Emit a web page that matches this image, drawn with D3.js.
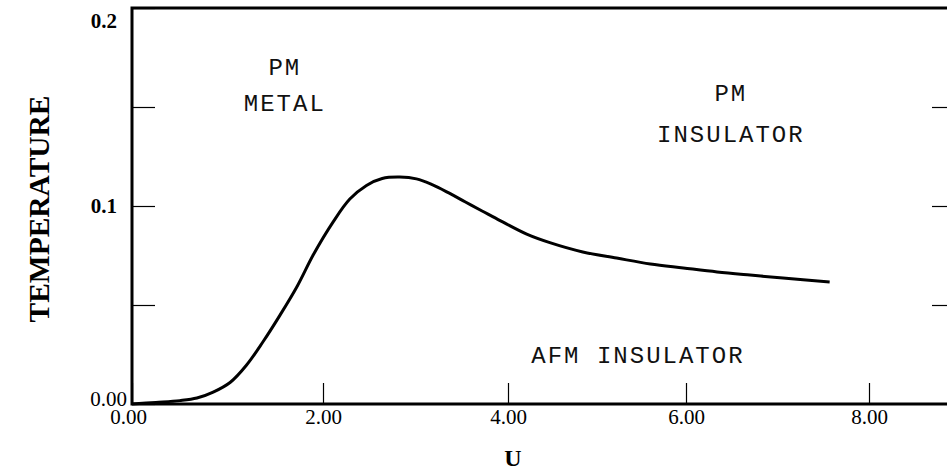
<!DOCTYPE html>
<html>
<head>
  <meta charset="utf-8">
  <script src="https://d3js.org/d3.v7.min.js" charset="utf-8"></script>
  <style>
    body { margin: 0px; background: #fff; }
    .tick text { font-family: "Liberation Serif", "Times New Roman", serif; fill: #000; }
    .region { font-family: "Courier New", "Liberation Mono", monospace; font-size: 24px; letter-spacing: 2px; text-anchor: middle; fill: #111; }
    .title { font-family: "Liberation Serif", "Times New Roman", serif; font-weight: bold; fill: #000; }
  </style>
</head>
<body>
<svg id="chart" width="947" height="471"></svg>

<script type="text/javascript">

// phase boundary
var uVals = [0, 0.25, 0.50, 0.68, 0.85, 1.03, 1.20, 1.37, 1.55, 1.73, 1.90, 2.11, 2.29, 2.47, 2.64, 2.83, 3.01, 3.18, 3.36, 3.54, 3.72, 3.92, 4.21, 4.47, 4.84, 5.22, 5.60, 5.97, 6.34, 6.70, 7.06, 7.57];
var tVals = [0, 0.0008, 0.0017, 0.003, 0.006, 0.011, 0.0197, 0.0313, 0.0449, 0.0595, 0.0755, 0.0920, 0.1035, 0.1104, 0.1139, 0.1146, 0.1137, 0.1108, 0.1066, 0.1020, 0.0975, 0.0925, 0.0858, 0.0815, 0.0768, 0.0737, 0.0707, 0.0687, 0.0667, 0.0651, 0.0636, 0.0616];

var xTicks = [0, 2, 4, 6, 8];
var xTickLabels = ["0.00", "2.00", "4.00", "6.00", "8.00"];
var yTicks = [0, 0.05, 0.1, 0.15, 0.2];
var yTickLabels = ["0.00", "", "0.1", "", "0.2"];

var regions = [
  { lines: ["PM", "METAL"], u: 1.60, t: [0.170, 0.152] },
  { lines: ["PM", "INSULATOR"], u: 6.49, t: [0.157, 0.136] },
  { lines: ["AFM INSULATOR"], u: 5.46, t: [0.0247] }
];

var svg = d3.select("#chart"),
    plotLeft = 132, plotRight = 955, plotTop = 8, plotBottom = 404;

// the scanned axis has slightly uneven tick spacing, so use the tick positions as breakpoints
var x = d3.scaleLinear()
    .domain(xTicks)
    .range([132, 323, 508, 686, 869]);

var y = d3.scaleLinear()
    .domain([0, 0.2])
    .range([plotBottom, plotTop]);

// bottom axis, ticks pointing up
var gx = svg.append("g")
    .attr("transform", "translate(0," + plotBottom + ")")
    .call(d3.axisBottom(x)
      .tickValues(xTicks)
      .tickSize(-21)
      .tickPadding(4)
      .tickFormat(function(d, i) { return xTickLabels[i]; }));
gx.select(".domain").remove();
gx.selectAll(".tick line").attr("stroke", "#000").attr("stroke-width", 1.2);
gx.selectAll(".tick text").style("font-size", "21px").attr("dy", "0.78em").attr("dx", function(d) { return d === 0 ? -4 : 0; });

// left axis, ticks pointing right
var gy = svg.append("g")
    .attr("transform", "translate(" + plotLeft + ",0)")
    .call(d3.axisLeft(y)
      .tickValues(yTicks)
      .tickSize(-23)
      .tickPadding(15)
      .tickFormat(function(d, i) { return yTickLabels[i]; }));
gy.select(".domain").remove();
gy.selectAll(".tick line").attr("stroke", "#000").attr("stroke-width", 1.2);
gy.selectAll(".tick text")
    .style("font-size", "21px")
    .style("font-weight", function(d) { return d > 0 ? "bold" : "normal"; })
    .attr("x", function(d) { return d === 0 ? -5 : -15; })
    .attr("dy", function(d) { return d === 0.2 ? "0.95em" : d === 0 ? "0.05em" : "0.32em"; });

// right axis, outside the visible area except its ticks
var gr = svg.append("g")
    .attr("transform", "translate(" + plotRight + ",0)")
    .call(d3.axisRight(y).tickValues([0.05, 0.1, 0.15]).tickSize(-23).tickFormat(""));
gr.select(".domain").remove();
gr.selectAll(".tick line").attr("stroke", "#000").attr("stroke-width", 1.2);

// frame
svg.append("path")
    .attr("d", "M" + plotRight + "," + plotTop + "H" + plotLeft + "V" + plotBottom + "H" + plotRight)
    .attr("fill", "none")
    .attr("stroke", "#000")
    .attr("stroke-width", 3);

// curve
var line = d3.line()
    .x(function(d) { return x(d[0]); })
    .y(function(d) { return y(d[1]); })
    .curve(d3.curveCatmullRom.alpha(0.5));

svg.append("path")
    .datum(d3.zip(uVals, tVals))
    .attr("d", line)
    .attr("fill", "none")
    .attr("stroke", "#000")
    .attr("stroke-width", 3)
    .attr("stroke-linejoin", "round");

// region labels
regions.forEach(function(r) {
  r.lines.forEach(function(s, i) {
    svg.append("text")
      .attr("class", "region")
      .attr("x", x(r.u))
      .attr("y", y(r.t[i]))
      .attr("dy", "0.32em")
      .text(s);
  });
});

// axis titles
svg.append("text")
    .attr("class", "title")
    .attr("x", 513)
    .attr("y", 466)
    .attr("text-anchor", "middle")
    .style("font-size", "24px")
    .text("U");

svg.append("text")
    .attr("class", "title")
    .attr("transform", "translate(49,209) rotate(-90)")
    .attr("text-anchor", "middle")
    .style("font-size", "29px")
    .attr("textLength", 227)
    .attr("lengthAdjust", "spacingAndGlyphs")
    .text("TEMPERATURE");

</script>
</body>
</html>
